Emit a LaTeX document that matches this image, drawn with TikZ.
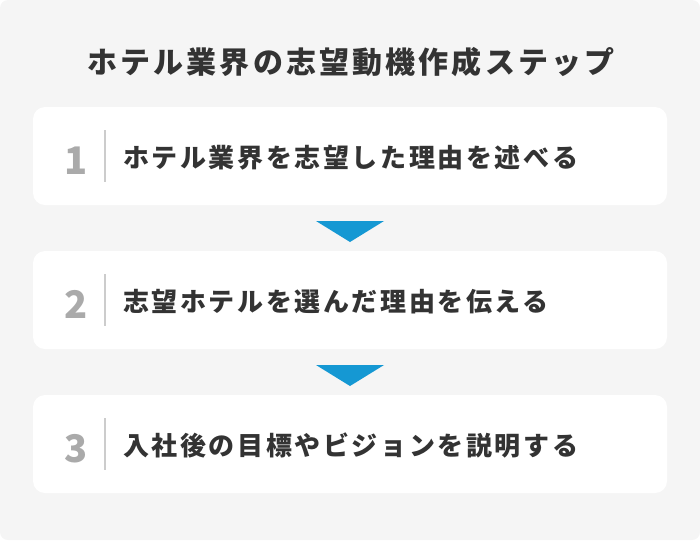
\documentclass[tikz,border=0pt]{standalone}
\usepackage{fontspec}
\setmainfont{Noto Sans CJK JP}
\newfontfamily\jptitle{Noto Sans CJK JP}[LetterSpace=10.5]
\newfontfamily\jpstep{Noto Sans CJK JP}[LetterSpace=10]
\usetikzlibrary{positioning}
\definecolor{bggray}{HTML}{F5F5F5}
\definecolor{stepblue}{HTML}{1598D3}
\definecolor{textdark}{HTML}{333333}
\definecolor{numgray}{HTML}{AAAAAA}
\definecolor{linegray}{HTML}{CCCCCC}
\begin{document}
\begin{tikzpicture}[x=1pt, y=-1pt,
            card/.style={fill=white, rounded corners=12pt, minimum width=634pt, minimum height=98pt, inner sep=0pt},
            stepnum/.style={font=\fontsize{38}{38}\selectfont\bfseries, text=numgray, inner sep=0pt, anchor=base},
            steptext/.style={font=\jpstep\fontsize{26}{26}\selectfont\bfseries, text=textdark, inner sep=0pt, anchor=west},
            divider/.style={draw=linegray, line width=2pt},
            arrowhead/.style={fill=stepblue}]

            \useasboundingbox (0,0) rectangle (700,542);
            \fill[bggray, rounded corners=8pt] (0,0) rectangle (700,540);

            \node[font=\jptitle\fontsize{30}{30}\selectfont\bfseries, text=textdark, inner sep=0pt] (title) at (351,62) {ホテル業界の志望動機作成ステップ};

            % step 1
            \node[card] (card1) at (350,156) {};
            \node[stepnum] (num1) at (76,174) {1};
            \draw[divider] (105,130) -- (105,182);
            \node[steptext] (text1) at (123,157.5) {ホテル業界を志望した理由を述べる};

            \fill[arrowhead] (316,221) -- (384,221) -- (350,242) -- cycle;

            % step 2
            \node[card] (card2) at (350,300) {};
            \node[stepnum] (num2) at (76,318) {2};
            \draw[divider] (105,274) -- (105,326);
            \node[steptext] (text2) at (123,301.5) {志望ホテルを選んだ理由を伝える};

            \fill[arrowhead] (316,365) -- (384,365) -- (350,386) -- cycle;

            % step 3
            \node[card] (card3) at (350,444) {};
            \node[stepnum] (num3) at (76,462) {3};
            \draw[divider] (105,418) -- (105,470);
            \node[steptext] (text3) at (123,445.5) {入社後の目標やビジョンを説明する};
\end{tikzpicture}
\end{document}
